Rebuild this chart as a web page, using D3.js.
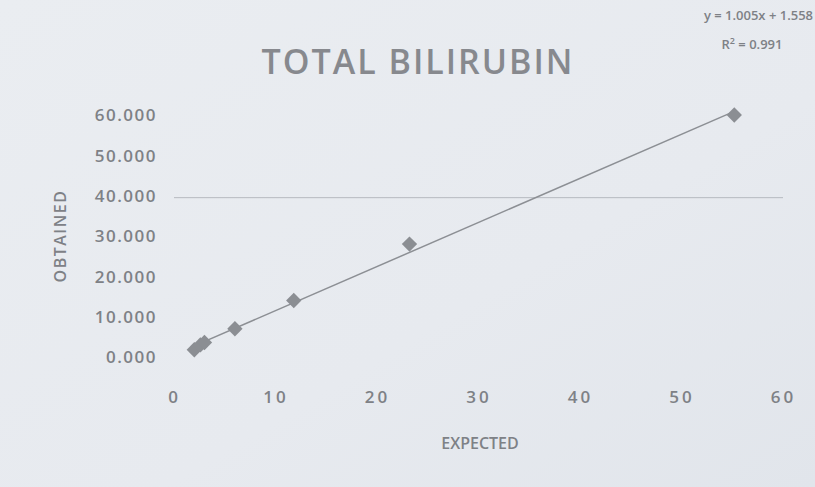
<!DOCTYPE html>
<html>
<head>
<meta charset="utf-8">
<script src="https://cdn.jsdelivr.net/npm/d3@7"></script>
<style>
  html, body { margin: 0; padding: 0; background: #e6e9ee; }
  svg { display: block; font-family: "Open Sans", sans-serif; }
</style>
</head>
<body>
<svg id="chart" width="815" height="487"></svg>
<script>
// data
var expected = [2.0, 2.6, 3.0, 6.0, 11.8, 23.2, 55.2]
var obtained = [1.8, 3.0, 3.6, 7.0, 14.0, 28.0, 60.0]

var xTicks = [0, 10, 20, 30, 40, 50, 60]
var yTicks = [0, 10, 20, 30, 40, 50, 60]
var gridAt = [40]

// trendline label as printed on the chart
var eqLabel = 'y = 1.005x + 1.558'
var r2Value = '0.991'

var svg = d3.select('#chart')

// slightly uneven paper background
var defs = svg.append('defs')
var grad = defs.append('linearGradient').attr('id', 'paper')
  .attr('x1', 0).attr('y1', 0).attr('x2', 1).attr('y2', 1)
grad.append('stop').attr('offset', '0%').attr('stop-color', '#eaedf1')
grad.append('stop').attr('offset', '60%').attr('stop-color', '#e7eaef')
grad.append('stop').attr('offset', '100%').attr('stop-color', '#e1e5eb')
svg.append('rect').attr('width', 815).attr('height', 487).attr('fill', 'url(#paper)')

var x = d3.scaleLinear().domain([0, 60]).range([174, 783])
var y = d3.scaleLinear().domain([0, 60]).range([357, 115])

var textCol = '#7e8186'

// faint gridline
svg.selectAll('.grid').data(gridAt).enter().append('line')
  .attr('class', 'grid')
  .attr('x1', x(0)).attr('x2', x(60))
  .attr('y1', function(d) { return y(d) + 2 })
  .attr('y2', function(d) { return y(d) + 2 })
  .attr('stroke', '#b6babf').attr('stroke-width', 1)

// axes (labels only, no lines)
var xAxis = svg.append('g').attr('transform', 'translate(0,' + (y(0) + 31) + ')')
  .call(d3.axisBottom(x).tickValues(xTicks).tickSize(0).tickPadding(0))
var yAxis = svg.append('g').attr('transform', 'translate(' + (x(0) - 17) + ',0)')
  .call(d3.axisLeft(y).tickValues(yTicks).tickSize(0).tickPadding(0).tickFormat(d3.format('.3f')))

svg.selectAll('.domain').remove()
svg.selectAll('.tick text')
  .attr('fill', textCol)
  .style('font-family', '"Open Sans", sans-serif')
  .style('font-size', '17px')
  .style('font-weight', '600')
  .style('letter-spacing', '1.5px')
xAxis.selectAll('.tick text').attr('dy', '0.9em').style('letter-spacing', '3px')
yAxis.selectAll('.tick text').attr('dy', '0.35em')

// least squares trendline over the data range
var mx = d3.mean(expected), my = d3.mean(obtained)
var sxy = d3.sum(expected, function(d, i) { return (d - mx) * (obtained[i] - my) })
var sxx = d3.sum(expected, function(d) { return (d - mx) * (d - mx) })
var slope = sxy / sxx
var intercept = my - slope * mx
var xr = d3.extent(expected)
svg.append('line')
  .attr('x1', x(xr[0])).attr('y1', y(slope * xr[0] + intercept))
  .attr('x2', x(xr[1])).attr('y2', y(slope * xr[1] + intercept))
  .attr('stroke', '#8c8f94').attr('stroke-width', 1.5)

// diamond markers
var points = expected.map(function(d, i) { return [d, obtained[i]] })
svg.selectAll('.pt').data(points).enter().append('path')
  .attr('class', 'pt')
  .attr('d', d3.symbol().type(d3.symbolDiamond2).size(150))
  .attr('transform', function(d) { return 'translate(' + x(d[0]) + ',' + y(d[1]) + ')' })
  .attr('fill', '#8b8e93')

// titles
svg.append('text').attr('x', 418).attr('y', 74)
  .attr('text-anchor', 'middle').attr('fill', '#87898e')
  .style('font-size', '34px').style('font-weight', '600').style('letter-spacing', '2px')
  .text('TOTAL BILIRUBIN')

svg.append('text').attr('x', 480).attr('y', 449)
  .attr('text-anchor', 'middle').attr('fill', textCol)
  .style('font-size', '16px').style('font-weight', '600')
  .text('EXPECTED')

svg.append('text')
  .attr('transform', 'translate(66,' + y(30) + ') rotate(-90)')
  .attr('text-anchor', 'middle').attr('fill', textCol)
  .style('font-size', '16px').style('font-weight', '600').style('letter-spacing', '1.5px')
  .text('OBTAINED')

// equation box
svg.append('text').attr('x', 813).attr('y', 20)
  .attr('text-anchor', 'end').attr('fill', textCol)
  .style('font-size', '13px').style('font-weight', '600')
  .text(eqLabel)
var r2 = svg.append('text').attr('x', 752).attr('y', 49)
  .attr('text-anchor', 'middle').attr('fill', textCol)
  .style('font-size', '13px').style('font-weight', '600')
r2.append('tspan').text('R')
r2.append('tspan').attr('dy', -5).style('font-size', '9px').text('2')
r2.append('tspan').attr('dy', 5).text(' = ' + r2Value)
</script>
</body>
</html>
